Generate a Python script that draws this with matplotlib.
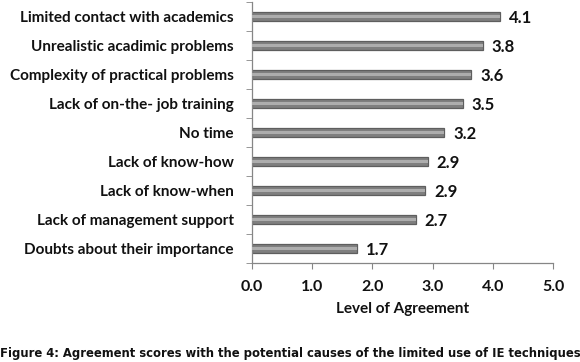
import matplotlib
matplotlib.use("Agg")
import matplotlib.pyplot as plt
import numpy as np

categories = [
    "Limited contact with academics",
    "Unrealistic acadimic problems",
    "Complexity of practical problems",
    "Lack of on-the- job training",
    "No time",
    "Lack of know-how",
    "Lack of know-when",
    "Lack of management support",
    "Doubts about their importance",
]
values = [4.12, 3.83, 3.64, 3.50, 3.19, 2.92, 2.88, 2.72, 1.74]
labels = ["4.1", "3.8", "3.6", "3.5", "3.2", "2.9", "2.9", "2.7", "1.7"]
xticks = [0, 1, 2, 3, 4, 5]
xticklabels = ["0.0", "1.0", "2.0", "3.0", "4.0", "5.0"]

font = "Lato"
fig = plt.figure(figsize=(5.8, 3.62), dpi=100)
ax = fig.add_axes([252/580, 1-263/362, 301/580, 261/362])

y = np.arange(len(categories))
ax.barh(y, values, height=0.32, color="#7f7f7f", edgecolor="#5e5e5e", linewidth=0.9, zorder=2)
ax.barh(y, values, height=0.09, color="#adadad", linewidth=0, zorder=3)

for yi, v, lab in zip(y, values, labels):
    ax.text(v + 0.15, yi + 0.06, lab, va="center", ha="left", fontsize=12,
            fontweight="bold", family=font, color="#111111")

ax.set_ylim(len(categories) - 0.5, -0.5)
ax.set_xlim(0, 5)
ax.set_yticks(y)
ax.set_yticklabels(categories, fontsize=11, fontweight="bold", family=font, color="#111111")
ax.set_yticks(np.arange(-0.5, len(categories), 1), minor=True)
ax.tick_params(axis="y", which="major", length=0, pad=13)
ax.tick_params(axis="y", which="minor", length=4, color="#868686", direction="out")
ax.set_xticks(xticks)
ax.set_xticklabels(xticklabels, fontsize=11.5, fontweight="bold", family=font, color="#111111")
ax.tick_params(axis="x", length=4, color="#868686", direction="out", pad=8)
ax.set_xlabel("Level of Agreement", fontsize=11, fontweight="bold", family=font, labelpad=6, color="#111111")

for s in ["top", "right"]:
    ax.spines[s].set_visible(False)
for s in ["left", "bottom"]:
    ax.spines[s].set_color("#868686")
    ax.spines[s].set_linewidth(0.9)

fig.text(0.5, 1-353/362, "Figure 4: Agreement scores with the potential causes of the limited use of IE techniques",
         ha="center", va="center", fontsize=8.4, fontweight="bold", family="DejaVu Sans", color="#111111")

fig.savefig("out.png", dpi=100)
